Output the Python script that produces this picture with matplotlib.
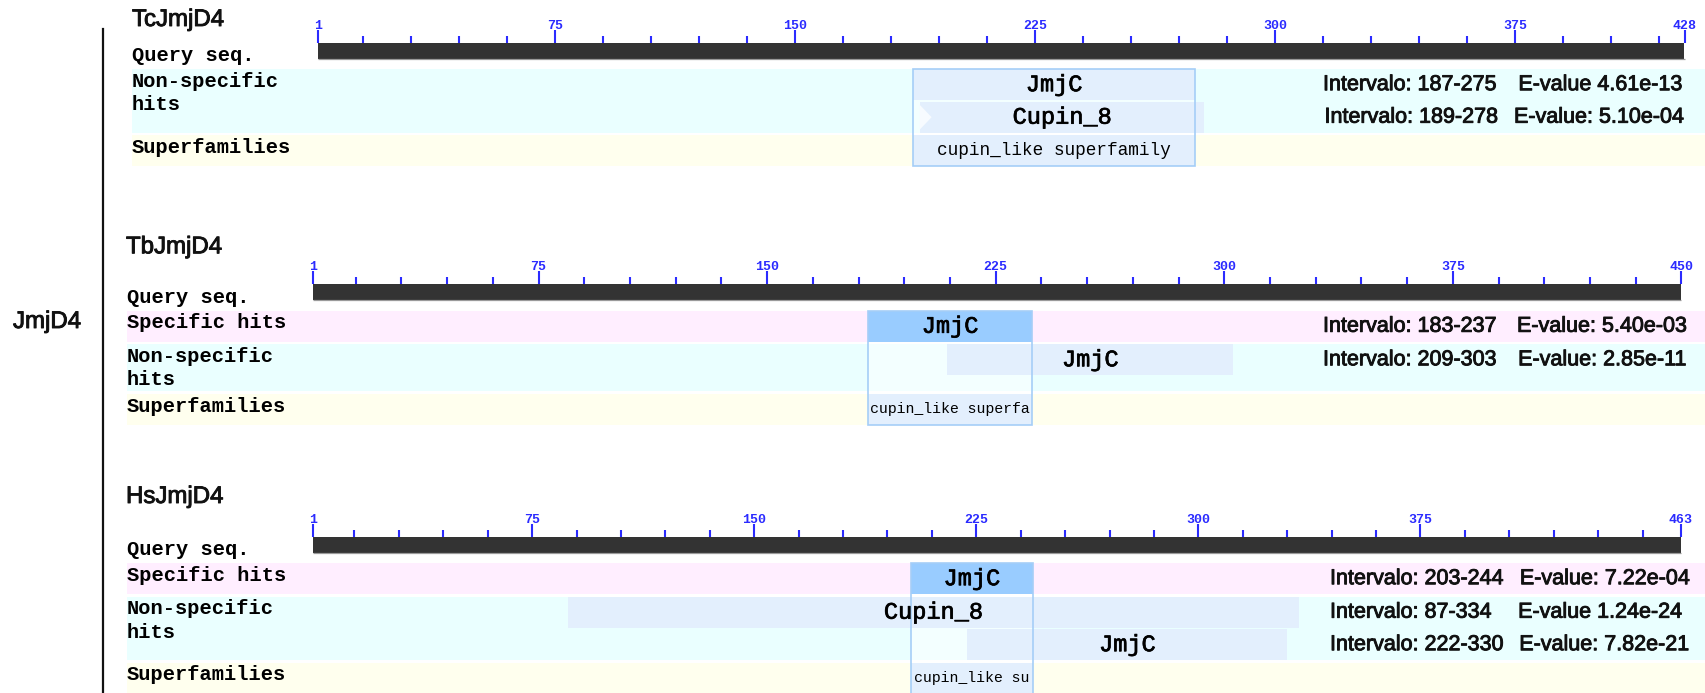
import matplotlib
matplotlib.use("Agg")
import matplotlib.pyplot as plt
import matplotlib.patheffects as pe
from matplotlib.patches import Rectangle, Polygon
from matplotlib.lines import Line2D
from matplotlib.transforms import blended_transform_factory

W, H, DPI = 1706, 693, 100

# ---------------- data ----------------
group_label = "JmjD4"
proteins = ["TcJmjD4", "TbJmjD4", "HsJmjD4"]
lengths = [428, 450, 463]

spec_names = [[], ["JmjC"], ["JmjC"]]
spec_starts = [[], [183], [203]]
spec_ends = [[], [237], [244]]
spec_evalues = [[], ["E-value: 5.40e-03"], ["E-value: 7.22e-04"]]

nonspec_names = [["JmjC", "Cupin_8"], ["JmjC"], ["Cupin_8", "JmjC"]]
nonspec_starts = [[187, 189], [209], [87, 222]]
nonspec_ends = [[275, 278], [303], [334, 330]]
nonspec_evalues = [["E-value 4.61e-13", "E-value: 5.10e-04"],
                   ["E-value: 2.85e-11"],
                   ["E-value 1.24e-24", "E-value: 7.82e-21"]]
nonspec_partial = [[False, True], [False], [False, False]]

super_labels = ["cupin_like superfamily", "cupin_like superfa", "cupin_like su"]
super_starts = [187, 183, 203]
super_ends = [275, 237, 244]

# ---------------- layout (pixels) ----------------
panel_span = [(0, 200), (200, 462), (462, 693)]
band_left = [132, 127, 127]
ruler_px = [(318, 1684.5), (313, 1681.5), (313, 1681)]
bar_top = [42.7, 284.3, 536.7]
title_pos = [(132, 26), (126, 253.3), (126, 503)]
interval_left = [[1323, 1324.5], [1323, 1323], [1330, 1330, 1330]]
evalue_right = [[1682, 1684], [1687, 1686], [1690, 1682, 1689]]
super_font = [12.8, 10.7, 10.7]

BAR_H, GAP_BAR, SLOT_H, SLOT_GAP, BAND_GAP, TWO_LINE_H = 16, 10.5, 31, 1.5, 2.5, 47

SPEC_BG, NONSPEC_BG, SUPER_BG = "#FFEEFF", "#EAFFFF", "#FFFFEE"
HIT_SPEC, HIT_NONSPEC, SUPER_FILL = "#99CCFF", "#E3EFFD", "#E3EFFD"
OUTLINE, RULER, BAR = "#A5CEF7", "#2B2BFF", "#333333"
INK = "#111111"

MONO, SANS = "Liberation Mono", "Liberation Sans"
LABEL_KW = dict(family=MONO, weight="bold", size=14.7, color="black", va="baseline", ha="left")
HEAVY = [pe.withStroke(linewidth=0.65, foreground=INK)]
HEAVY_MONO = [pe.withStroke(linewidth=0.5, foreground="black")]

fig = plt.figure(figsize=(W / DPI, H / DPI), dpi=DPI)
fig.patch.set_facecolor("white")

for i, name in enumerate(proteins):
    y0, y1 = panel_span[i]
    ax = fig.add_axes([0, 1 - y1 / H, 1, (y1 - y0) / H])
    ax.set_axis_off()
    L = lengths[i]
    p0, p1 = ruler_px[i]
    scale = (p1 - p0) / (L - 1)
    ax.set_xlim(1 - p0 / scale, 1 + (W - p0) / scale)
    ax.set_ylim(y1, y0)
    fx = blended_transform_factory(ax.transAxes, ax.transData)
    bl = band_left[i] / W

    # title
    tx, tb = title_pos[i]
    ax.text(tx / W, tb, name, transform=fx, family=SANS, size=17.3,
            va="baseline", ha="left", color=INK, path_effects=HEAVY)

    # sequence ruler
    top = bar_top[i]
    ax.add_patch(Rectangle((1, top), L - 1, BAR_H, facecolor=BAR, edgecolor="none", zorder=2))
    ax.hlines(top + BAR_H, 1, L, colors="#9A9A9A", lw=0.9, zorder=2)
    majors = [1] + list(range(75, L - 20, 75)) + [L]
    minors = [m for m in range(15, L, 15) if m not in majors]
    ax.vlines(majors, top - 13, top, colors=RULER, lw=1.5, zorder=2)
    ax.vlines(minors, top - 7, top, colors=RULER, lw=1.5, zorder=2)
    for m in majors:
        ax.text(m, top - 14, str(m), ha="center", va="baseline", family=MONO,
                weight="bold", size=9.5, color=RULER)
    ax.text(bl, top + 18.5, "Query seq.", transform=fx, **LABEL_KW)

    def band(y, h, color):
        ax.add_patch(Rectangle((bl, y), 1 - bl, h, transform=fx,
                               facecolor=color, edgecolor="none", zorder=1))

    def info(row, yc, start, end, ev):
        ax.text(interval_left[i][row] / W, yc, f"Intervalo: {start}-{end}", transform=fx,
                family=SANS, size=15.5, ha="left", va="center", color=INK, zorder=6,
                path_effects=HEAVY)
        ax.text(evalue_right[i][row] / W, yc, ev, transform=fx,
                family=SANS, size=15.5, ha="right", va="center", color=INK, zorder=6,
                path_effects=HEAVY)

    def hit_label(x, y, text):
        ax.text(x, y, text, ha="center", va="center", family=MONO, size=17,
                color="black", zorder=6, path_effects=HEAVY_MONO)

    cur = top + BAR_H + GAP_BAR
    first_band = cur
    row = 0

    # specific hits
    if spec_names[i]:
        band(cur, SLOT_H, SPEC_BG)
        ax.text(bl, cur + 17.7, "Specific hits", transform=fx, **LABEL_KW)
        for n, s, e, ev in zip(spec_names[i], spec_starts[i], spec_ends[i], spec_evalues[i]):
            ax.add_patch(Rectangle((s, cur), e - s, SLOT_H, facecolor=HIT_SPEC,
                                   edgecolor="none", zorder=3))
            hit_label((s + e) / 2, cur + SLOT_H / 2, n)
            info(row, cur + SLOT_H / 2, s, e, ev)
            row += 1
        cur += SLOT_H + BAND_GAP

    # non-specific hits
    k = len(nonspec_names[i])
    h_ns = max(k * SLOT_H + (k - 1) * SLOT_GAP, TWO_LINE_H)
    band(cur, h_ns, NONSPEC_BG)
    ax.text(bl, cur + 17.7, "Non-specific", transform=fx, **LABEL_KW)
    ax.text(bl, cur + 41.0, "hits", transform=fx, **LABEL_KW)
    for j, (n, s, e, ev, part) in enumerate(zip(nonspec_names[i], nonspec_starts[i],
                                                 nonspec_ends[i], nonspec_evalues[i],
                                                 nonspec_partial[i])):
        sy = cur + j * (SLOT_H + SLOT_GAP)
        ax.add_patch(Rectangle((s, sy), e - s, SLOT_H, facecolor=HIT_NONSPEC,
                               edgecolor="none", zorder=3))
        if part:
            ax.add_patch(Polygon([(s, sy + 3), (s + 12 / scale, sy + SLOT_H / 2),
                                  (s, sy + SLOT_H - 3)], closed=True,
                                 facecolor="#F7FBFF", edgecolor="none", zorder=3.5))
        hit_label((s + e) / 2, sy + SLOT_H / 2, n)
        info(row, sy + SLOT_H / 2, s, e, ev)
        row += 1
    cur += h_ns + BAND_GAP

    # superfamilies
    band(cur, SLOT_H, SUPER_BG)
    ax.text(bl, cur + 17.7, "Superfamilies", transform=fx, **LABEL_KW)
    ss, se = super_starts[i], super_ends[i]
    ax.add_patch(Rectangle((ss, first_band), se - ss, cur + SLOT_H - first_band,
                           facecolor="white", alpha=0.45, edgecolor="none", zorder=1.5))
    ax.add_patch(Rectangle((ss, cur), se - ss, SLOT_H, facecolor=SUPER_FILL,
                           edgecolor="none", zorder=3))
    ax.add_patch(Rectangle((ss, first_band), se - ss, cur + SLOT_H - first_band,
                           fill=False, edgecolor=OUTLINE, lw=1.2, zorder=5))
    ax.text((ss + se) / 2, cur + SLOT_H / 2, super_labels[i], ha="center", va="center",
            family=MONO, size=super_font[i], color="black", zorder=6)

# group bracket on the left
fig.add_artist(Line2D([103 / W, 103 / W], [1 - 29 / H, 0], transform=fig.transFigure,
                      color=INK, lw=1.6))
fig.text(13 / W, 1 - 322 / H, group_label, family=SANS, size=17.3,
         va="center", ha="left", color=INK, path_effects=HEAVY)

fig.savefig("out.png", dpi=DPI, facecolor="white")
